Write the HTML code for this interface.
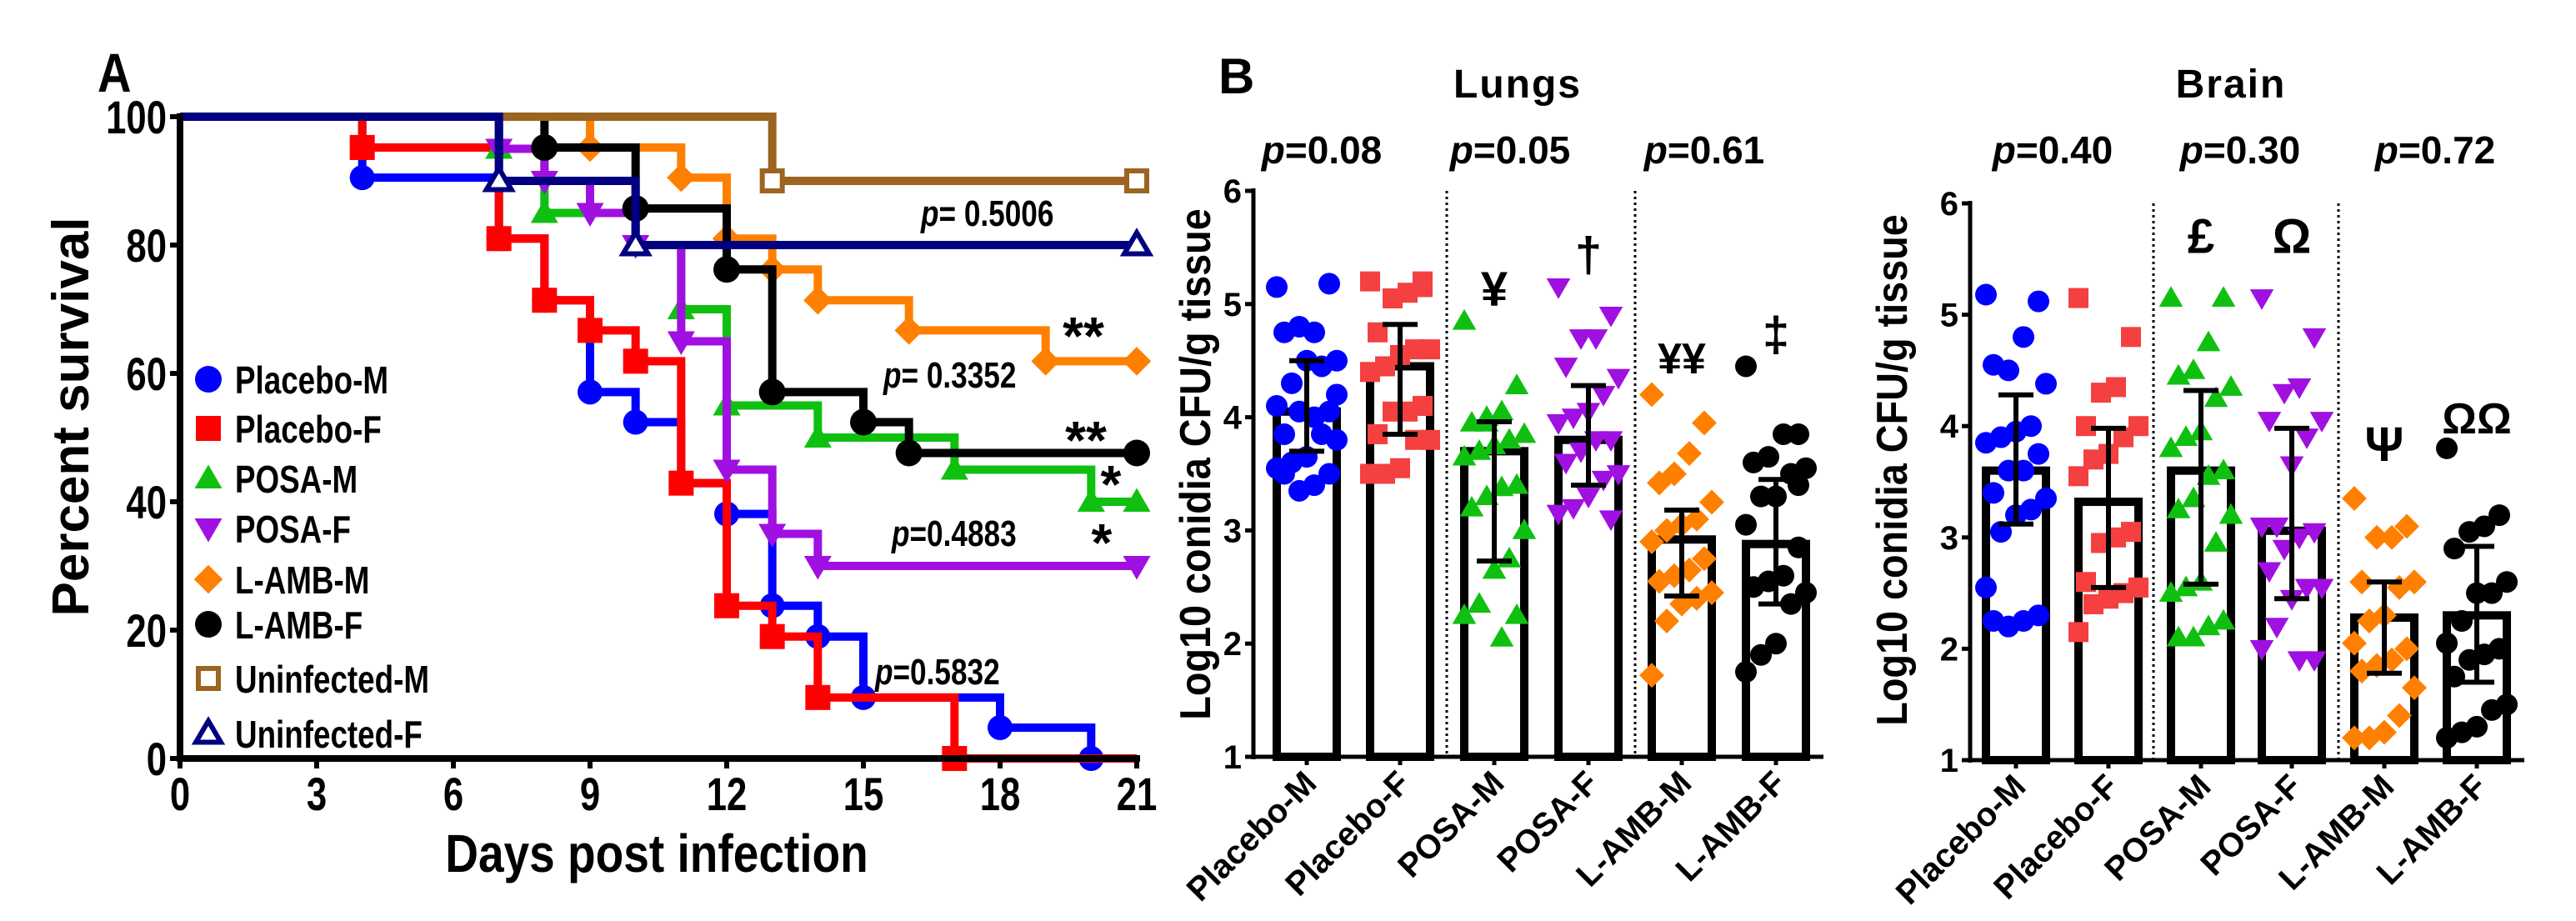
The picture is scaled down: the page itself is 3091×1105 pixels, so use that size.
<!DOCTYPE html>
<html><head><meta charset="utf-8"><style>
body{margin:0;background:#fff}
svg{display:block;font-family:"Liberation Sans",Arial,sans-serif;font-weight:bold}
</style></head><body>
<svg id="fig" width="3091" height="1105" viewBox="0 0 3091 1105" xmlns="http://www.w3.org/2000/svg">
<g id="panelA"></g>
<g id="lungs"></g>
<g id="brain"></g>
</svg>
<script>
// ---------- Panel A data ----------
const survNames = ["Placebo-M","Placebo-F","POSA-M","POSA-F","L-AMB-M","L-AMB-F","Uninfected-M","Uninfected-F"];
const survColors = ["#0000ff","#ff0000","#10c010","#a010e0","#ff8000","#000000","#9c6420","#000080"];
const survMarkers = ["circle","square","tri","dtri","diamond","circle","hsquare","htri"];
const survPM = [[4,90.5],[7,81],[8,71.4],[9,57.1],[10,52.4],[11,42.9],[12,38.1],[13,23.8],[14,19],[15,9.5],[18,4.8],[20,0]];
const survPF = [[4,95.2],[7,81],[8,71.4],[9,66.7],[10,61.9],[11,42.9],[12,23.8],[13,19],[14,9.5],[17,0]];
const survOM = [[7,95],[8,85],[10,80],[11,70],[12,55],[14,50],[17,45],[20,40],[21,40]];
const survOF = [[7,95],[8,90],[9,85],[10,80],[11,65],[12,45],[13,35],[14,30],[21,30]];
const survLM = [[9,95.2],[11,90.5],[12,81],[13,76.2],[14,71.4],[16,66.7],[19,61.9],[21,61.9]];
const survLF = [[8,95.2],[10,85.7],[12,76.2],[13,57.1],[15,52.4],[16,47.6],[21,47.6]];
const survUM = [[13,90],[21,90]];
const survUF = [[7,90],[10,80],[21,80]];
const survSeries = [survPM,survPF,survOM,survOF,survLM,survLF,survUM,survUF];
const dayTicks = [0,3,6,9,12,15,18,21];
const pctTicks = [0,20,40,60,80,100];

// ---------- Panel B data ----------
const groups = ["Placebo-M","Placebo-F","POSA-M","POSA-F","L-AMB-M","L-AMB-F"];
const grpColorsL = ["#0000ff","#f44040","#10c010","#a010e0","#ff8000","#000000"];
const grpColorsB = ["#0000ff","#f44040","#10c010","#a010e0","#ff8000","#000000"];
const grpMarkers = ["circle","square","tri","dtri","diamond","circle"];
const cfuTicks = [1,2,3,4,5,6];
const lungMeans = [4.05,4.45,3.7,3.8,2.92,2.88];
const lungErrLo = [3.7,3.85,2.73,3.4,2.42,2.35];
const lungErrHi = [4.5,4.82,3.96,4.28,3.18,3.45];
const lungPts = [
 [5.15,5.18,4.75,4.8,4.75,4.5,4.45,4.5,4.3,4.1,4.05,4.0,4.05,3.85,3.8,3.85,3.65,3.6,3.55,3.5,3.4,3.35,3.5,4.2],
 [5.2,5.2,5.1,5.05,4.75,4.6,4.6,4.55,4.45,4.4,4.1,4.05,4.05,3.85,3.8,3.8,3.55,3.5,3.5,5.15],
 [4.85,4.28,4.05,4.0,3.95,3.85,3.8,3.75,3.7,3.65,3.4,3.38,3.3,3.2,3.0,2.75,2.65,2.35,2.25,2.25,2.05,3.95],
 [5.15,4.9,4.7,4.7,4.45,4.35,4.2,4.05,4.0,3.95,3.8,3.8,3.7,3.6,3.5,3.45,3.3,3.2,3.15,3.1],
 [4.2,3.95,3.68,3.5,3.42,3.25,3.1,3.05,3.0,2.9,2.75,2.65,2.6,2.55,2.45,2.4,2.35,2.2,1.72],
 [4.45,3.85,3.85,3.65,3.6,3.55,3.5,3.3,3.3,3.05,2.85,2.6,2.55,2.5,2.45,2.35,2.0,1.9,1.75,3.4]];
const lungPvals = ["0.08","0.05","0.61"];
const lungSymbols = ["","","¥","†","¥¥","‡"];
const lungSymVals = [0,0,5.15,5.45,4.55,4.75];
const brainMeans = [3.6,3.32,3.6,3.06,2.28,2.3];
const brainErrLo = [3.12,2.55,2.58,2.45,1.78,1.7];
const brainErrHi = [4.28,3.98,4.32,3.98,2.6,2.92];
const brainPts = [
 [5.18,5.12,4.8,4.5,4.55,4.38,4.0,3.95,3.9,3.85,3.75,3.6,3.6,3.4,3.35,3.25,3.2,3.05,2.55,2.3,2.25,2.2,2.25],
 [5.15,4.8,4.35,4.3,4.0,4.0,3.9,3.75,3.7,3.55,3.05,3.0,2.95,2.6,2.55,2.5,2.45,2.4,2.15],
 [5.15,5.15,4.75,4.5,4.45,4.35,4.25,3.95,3.9,3.8,3.6,3.55,3.35,3.25,3.2,2.95,2.6,2.55,2.5,2.25,2.2,2.1,2.1],
 [5.15,4.8,4.35,4.3,4.05,4.05,3.9,3.65,3.1,3.1,3.05,3.0,2.9,2.7,2.55,2.55,2.45,2.2,2.0,1.9,1.9],
 [3.35,3.1,3.0,3.0,2.6,2.6,2.55,2.3,2.25,2.05,2.0,1.9,1.85,1.8,1.65,1.4,1.25,1.2,1.2],
 [3.8,3.2,3.1,3.05,2.9,2.6,2.5,2.5,2.25,2.05,2.0,1.95,1.9,1.75,1.5,1.45,1.3,1.25,1.2]];
const brainPvals = ["0.40","0.30","0.72"];
const brainSymbols = ["","","£","Ω","Ψ","ΩΩ"];
const brainSymVals = [0,0,5.72,5.72,3.85,4.1];

const NS="http://www.w3.org/2000/svg";
function mk(parent,tag,attrs,txt){const e=document.createElementNS(NS,tag);for(const k in attrs)e.setAttribute(k,attrs[k]);if(txt!==undefined)e.textContent=txt;parent.appendChild(e);return e;}

function marker(g,type,x,y,s,color){
  let e;
  if(type==="circle") e=mk(g,"circle",{cx:x,cy:y,r:s,fill:color});
  else if(type==="square") e=mk(g,"rect",{x:x-s,y:y-s,width:2*s,height:2*s,fill:color});
  else if(type==="hsquare"){e=mk(g,"rect",{x:x-s+3,y:y-s+3,width:2*s-6,height:2*s-6,fill:"#fff",stroke:color,"stroke-width":6});}
  else if(type==="tri") e=mk(g,"polygon",{points:`${x},${y-s*1.1} ${x-s*1.1},${y+s*0.8} ${x+s*1.1},${y+s*0.8}`,fill:color});
  else if(type==="htri") e=mk(g,"polygon",{points:`${x},${y-s} ${x-s},${y+s*0.7} ${x+s},${y+s*0.7}`,fill:"#fff",stroke:color,"stroke-width":6});
  else if(type==="dtri") e=mk(g,"polygon",{points:`${x},${y+s*1.1} ${x-s*1.1},${y-s*0.8} ${x+s*1.1},${y-s*0.8}`,fill:color});
  else if(type==="diamond") e=mk(g,"polygon",{points:`${x},${y-s*1.15} ${x+s*1.15},${y} ${x},${y+s*1.15} ${x-s*1.15},${y}`,fill:color});
  return e;
}

// ---------- Panel A ----------
(function(){
  const g=document.getElementById("panelA");
  const X=d=>216+d*(1364-216)/21, Y=p=>910-p*7.7;
  const A=mk(g,"text",{x:117,y:110,"font-size":66,transform:"translate(117,0) scale(0.85,1) translate(-117,0)"},"A");
  
  survSeries.forEach((s,i)=>{
    const sg=mk(g,"g",{});
    
    
    let d=`M${X(0)},${Y(100)}`;
    s.forEach(([day,p])=>{d+=` H${X(day)} V${Y(p)}`;});
    d+=` H${X(21)}`;
    mk(sg,"path",{d:d,fill:"none",stroke:survColors[i],"stroke-width":10,"stroke-linejoin":"miter"});
    s.forEach(([day,p])=>{const m=marker(sg,survMarkers[i],X(day),Y(p),i===5?16:15,survColors[i]);});
  });
  mk(g,"path",{d:`M216,136 V914 M212,910 H1368`,stroke:"#000","stroke-width":8,fill:"none"});
  pctTicks.forEach(p=>{mk(g,"line",{x1:204,x2:216,y1:Y(p),y2:Y(p),stroke:"#000","stroke-width":6});
    const t=mk(g,"text",{x:200,y:Y(p)+20,"text-anchor":"end","font-size":56,transform:`translate(200,0) scale(0.78,1) translate(-200,0)`},p);
    });
  dayTicks.forEach(dd=>{mk(g,"line",{x1:X(dd),x2:X(dd),y1:910,y2:922,stroke:"#000","stroke-width":6});
    const t=mk(g,"text",{x:X(dd),y:972,"text-anchor":"middle","font-size":56,transform:`translate(${X(dd)},0) scale(0.78,1) translate(${-X(dd)},0)`},dd);
    });
  const yt=mk(g,"text",{x:0,y:0,"text-anchor":"middle","font-size":62,transform:"translate(106,500) rotate(-90)"},"Percent survival");
  
  const xt=mk(g,"text",{x:788,y:1046,"text-anchor":"middle","font-size":64,transform:"translate(788,0) scale(0.86,1) translate(-788,0)"},"Days post infection");
  
  const ly=[455,514,574,634,695,749,814,880];
  survNames.forEach((n,i)=>{const lg=mk(g,"g",{});
    
    marker(lg,survMarkers[i],250,ly[i],i===5||i===0?16:15,survColors[i]);
    mk(lg,"text",{x:282,y:ly[i]+17,"font-size":46,transform:"translate(282,0) scale(0.8,1) translate(-282,0)"},n);});
  const ann=[[1105,271,"= 0.5006"],[1060,465,"= 0.3352"],[1070,655,"=0.4883"],[1050,821,"=0.5832"]];
  ann.forEach(a=>{const t=mk(g,"text",{x:a[0],y:a[1],"font-size":44,transform:`translate(${a[0]},0) scale(0.8,1) translate(${-a[0]},0)`});
    
    mk(t,"tspan",{"font-style":"italic"},"p");mk(t,"tspan",{},a[2]);});
  [[1300,425,"**"],[1303,550,"**"],[1333,603,"*"],[1322,673,"*"]].forEach(a=>{const t=mk(g,"text",{x:a[0],y:a[1],"text-anchor":"middle","font-size":64},a[2]);
    });
})();

// ---------- Bar panels ----------
function barPanel(gid,cfg){
  const g=document.getElementById(gid);
  const Y=v=>cfg.y1-(v-1)*(cfg.y1-cfg.y6)/5;
  const X=i=>cfg.cx[i];
  cfg.seps.forEach(sx=>{const l=mk(g,"line",{x1:sx,x2:sx,y1:cfg.y6,y2:cfg.y1,stroke:"#000","stroke-width":3,"stroke-dasharray":"3 4"});
    });
  groups.forEach((grp,i)=>{
    const bg=mk(g,"g",{});
    
    const top=Y(cfg.means[i]);
    mk(bg,"rect",{x:X(i)-36,y:top,width:72,height:cfg.y1-top,fill:"#fff",stroke:"#000","stroke-width":10});
    cfg.pts[i].forEach((v,j)=>{const off=(((j*7)%9)-4)*9;
      const m=marker(bg,grpMarkers[i],X(i)+off,Y(v),grpMarkers[i]==="square"?12:13,cfg.colors[i]);
      });
    const e=mk(bg,"path",{d:`M${X(i)},${Y(cfg.lo[i])} V${Y(cfg.hi[i])} M${X(i)-21},${Y(cfg.lo[i])} H${X(i)+21} M${X(i)-21},${Y(cfg.hi[i])} H${X(i)+21}`,stroke:"#000","stroke-width":6,fill:"none"});
    
    if(cfg.syms[i]){const t=mk(g,"text",{x:X(i),y:Y(cfg.symv[i])+22,"text-anchor":"middle","font-size":cfg.syms[i].length>1?52:58},cfg.syms[i]);
      }
    mk(g,"line",{x1:X(i),x2:X(i),y1:cfg.y1,y2:cfg.y1+10,stroke:"#000","stroke-width":5});
    const tl=mk(g,"text",{x:0,y:0,"text-anchor":"end","font-size":40,transform:`translate(${X(i)+14},${cfg.y1+34}) rotate(-45)`},grp);
    
  });
  mk(g,"path",{d:`M${cfg.ax},${cfg.y6-3} V${cfg.y1+3} M${cfg.ax-3},${cfg.y1} H${cfg.xend}`,stroke:"#000","stroke-width":5,fill:"none"});
  cfuTicks.forEach(v=>{mk(g,"line",{x1:cfg.ax-10,x2:cfg.ax,y1:Y(v),y2:Y(v),stroke:"#000","stroke-width":5});
    const t=mk(g,"text",{x:cfg.ax-14,y:Y(v)+14,"text-anchor":"end","font-size":40},v);
    });
  const yt=mk(g,"text",{x:0,y:0,"text-anchor":"middle","font-size":52,transform:`translate(${cfg.ylx},${cfg.yly}) rotate(-90) scale(0.9,1)`},"Log10 conidia CFU/g tissue");
  
  const tt=mk(g,"text",{x:cfg.titleX,y:117,"text-anchor":"middle","font-size":48,"letter-spacing":2},cfg.title);
  
  cfg.pv.forEach((p,k)=>{const t=mk(g,"text",{x:cfg.pvx[k],y:196,"text-anchor":"middle","font-size":46});
    
    mk(t,"tspan",{"font-style":"italic"},"p");mk(t,"tspan",{},"="+p);});
}
barPanel("lungs",{y6:229,y1:908,ax:1504,xend:2188,cx:[1568,1680,1793,1906,2018,2131],seps:[1736,1962],
  means:lungMeans,lo:lungErrLo,hi:lungErrHi,pts:lungPts,colors:grpColorsL,syms:lungSymbols,symv:lungSymVals,
  ylx:1452,yly:557,title:"Lungs",titleX:1821,pv:lungPvals,pvx:[1586,1812,2045]});
barPanel("brain",{y6:244,y1:912,ax:2364,xend:3029,cx:[2419,2530,2641,2750,2861,2972],seps:[2584,2806],
  means:brainMeans,lo:brainErrLo,hi:brainErrHi,pts:brainPts,colors:grpColorsB,syms:brainSymbols,symv:brainSymVals,
  ylx:2288,yly:564,title:"Brain",titleX:2677,pv:brainPvals,pvx:[2463,2688,2922]});
const B=document.createElementNS(NS,"text");
B.setAttribute("x",1462);B.setAttribute("y",112);B.setAttribute("font-size",60);B.textContent="B";


document.getElementById("lungs").appendChild(B);
</script>
</body></html>
